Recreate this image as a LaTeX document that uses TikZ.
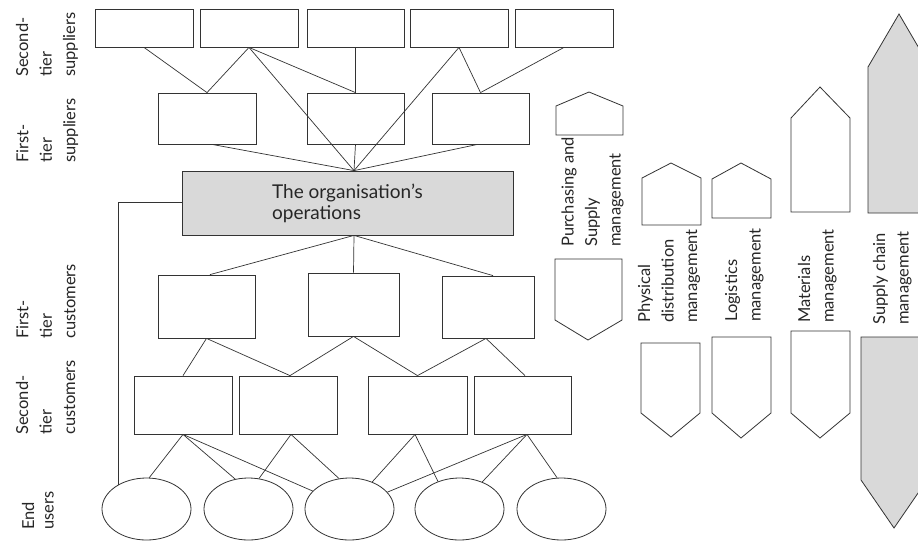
\documentclass[tikz,border=0pt]{standalone}
\usepackage{fontspec}
\setmainfont{Lato}
\usetikzlibrary{shapes.geometric}
\begin{document}
\begin{tikzpicture}[x=1pt,y=-1pt,
  box/.style={draw=black!80, line width=0.8pt, fill=white, inner sep=0pt},
  orgbox/.style={draw=black!80, line width=0.8pt, fill=black!15, inner sep=0pt,
    align=left, font=\fontsize{19}{21}\selectfont, text=black!85},
  user/.style={ellipse, draw=black!80, line width=0.8pt, fill=white, inner sep=0pt,
    minimum width=89pt, minimum height=62pt},
  link/.style={draw=black!80, line width=0.7pt},
  shaft/.style={draw=black!80, line width=0.8pt, fill=white, line join=miter},
  shaftgrey/.style={shaft, fill=black!15},
  lbl/.style={rotate=90, anchor=north west, align=left, inner sep=0pt,
    font=\fontsize{16.5}{23.5}\selectfont, text=black!85}]

\useasboundingbox (0,0) rectangle (918,542);
\fill[white] (0,0) rectangle (918,542);

% second-tier suppliers
\node[box, minimum width=98pt, minimum height=38pt] (sa) at (144,28) {};
\node[box, minimum width=98pt, minimum height=38pt] (sb) at (249,28) {};
\node[box, minimum width=97pt, minimum height=38pt] (sc) at (355.5,28) {};
\node[box, minimum width=98pt, minimum height=38pt] (sd) at (459,28) {};
\node[box, minimum width=98pt, minimum height=38pt] (se) at (564,28) {};

% first-tier suppliers
\node[box, minimum width=98pt, minimum height=51pt] (fa) at (207,118.5) {};
\node[box, minimum width=97pt, minimum height=51pt] (fb) at (355.5,118.5) {};
\node[box, minimum width=97pt, minimum height=51pt] (fc) at (480.5,118.5) {};

% the organisation
\node[orgbox, minimum width=331pt, minimum height=64pt] (org) at (347.5,203)
  {The organisation's\\operations};

% first-tier customers
\node[box, minimum width=97pt, minimum height=63pt] (ca) at (206.5,306.5) {};
\node[box, minimum width=91pt, minimum height=63pt] (cb) at (353.5,304.5) {};
\node[box, minimum width=92pt, minimum height=62pt] (cc) at (488.5,307) {};

% second-tier customers
\node[box, minimum width=98pt, minimum height=58pt] (da) at (183,405) {};
\node[box, minimum width=98pt, minimum height=58pt] (db) at (288,405) {};
\node[box, minimum width=99pt, minimum height=58pt] (dc) at (417.5,405) {};
\node[box, minimum width=97pt, minimum height=58pt] (dd) at (522.5,405) {};

% end users
\node[user] (ea) at (146.5,509) {};
\node[user] (eb) at (248.5,509) {};
\node[user] (ec) at (349.5,509) {};
\node[user] (ed) at (459.5,509) {};
\node[user] (ee) at (561.5,509) {};

% supplier links
\draw[link] (sa.south) -- (fa.north);
\draw[link] (sb.south) -- (fa.north);
\draw[link] (sb.south) -- (fb.north);
\draw[link] (sb.south) -- ([xshift=6.5pt]org.north);
\draw[link] (sc.south) -- (fb.north);
\draw[link] (sd.south) -- ([xshift=6.5pt]org.north);
\draw[link] (sd.south) -- (fc.north);
\draw[link] (se.south) -- (fc.north);
\draw[link] ([xshift=5pt]fa.south) -- ([xshift=6.5pt]org.north);
\draw[link] (fb.south) -- ([xshift=6.5pt]org.north);
\draw[link] ([xshift=-3pt]fc.south) -- ([xshift=6.5pt]org.north);

% customer links
\draw[link] ([xshift=6.5pt]org.south) -- ([xshift=3.5pt]ca.north);
\draw[link] ([xshift=6.5pt]org.south) -- (cb.north);
\draw[link] ([xshift=6.5pt]org.south) -- ([xshift=4.5pt]cc.north);
\draw[link] (ca.south) -- (da.north);
\draw[link] (ca.south) -- ([xshift=2pt]db.north);
\draw[link] (cb.south) -- ([xshift=2pt]db.north);
\draw[link] (cb.south) -- (dc.north);
\draw[link] ([xshift=-2.5pt]cc.south) -- (dc.north);
\draw[link] ([xshift=-2.5pt]cc.south) -- ([xshift=2.5pt]dd.north);

% links to end users
\draw[link] (da.south) -- (ea.85);
\draw[link] (da.south) -- (eb.114);
\draw[link] (da.south) -- (ec.154);
\draw[link] ([xshift=3pt]db.south) -- (eb.71);
\draw[link] ([xshift=3pt]db.south) -- (ec.109);
\draw[link] ([xshift=-2.5pt]dc.south) -- (ec.50);
\draw[link] ([xshift=-2.5pt]dc.south) -- (ed.128);
\draw[link] ([xshift=4.5pt]dd.south) -- (ec.24);
\draw[link] ([xshift=4.5pt]dd.south) -- (ed.50);
\draw[link] ([xshift=4.5pt]dd.south) -- (ee.98);

% direct line from the operations to the end users
\draw[link] ([yshift=1pt]org.west) -| (ea.139);

% tier labels
\node[lbl] (l1) at (15.8,77) {Second-\\tier\\suppliers};
\node[lbl] (l2) at (16.1,163) {First-\\tier\\suppliers};
\node[lbl] (l3) at (16.1,339) {First-\\tier\\customers};
\node[lbl] (l4) at (15.8,435) {Second-\\tier\\customers};
\node[lbl, font=\fontsize{16.5}{19.5}\selectfont] (l5) at (21.8,530) {End\\users};

% scope of each management approach
\draw[shaft] (556,135) -- (556,106) -- (589,92) -- (623,106) -- (623,135) -- cycle;
\draw[shaft] (555,259) -- (555,320) -- (588,340) -- (622,320) -- (622,259) -- cycle;
\node[lbl] (p1) at (561.3,247) {Purchasing and\\Supply\\management};

\draw[shaft] (642,225) -- (642,178) -- (671,163) -- (701,178) -- (701,225) -- cycle;
\draw[shaft] (641,343) -- (641,413) -- (671,437) -- (700,413) -- (700,343) -- cycle;
\node[lbl] (p2) at (637.8,323) {Physical\\distribution\\management};

\draw[shaft] (712,218) -- (712,179) -- (741,163) -- (771,179) -- (771,218) -- cycle;
\draw[shaft] (712,337) -- (712,413) -- (741,438) -- (771,413) -- (771,337) -- cycle;
\node[lbl] (p3) at (724.8,322) {Logistics\\management};

\draw[shaft] (791,212) -- (791,118) -- (820,87) -- (850,118) -- (850,212) -- cycle;
\draw[shaft] (791,331) -- (791,413) -- (820,438) -- (850,413) -- (850,331) -- cycle;
\node[lbl] (p4) at (797.8,323) {Materials\\management};

\draw[shaftgrey] (868,213) -- (868,67) -- (899,14) -- (930,67) -- (930,213) -- cycle;
\draw[shaftgrey] (861,337) -- (861,480) -- (894,528) -- (927,480) -- (927,337) -- cycle;
\node[lbl] (p5) at (872.8,325) {Supply chain\\management};

\end{tikzpicture}
\end{document}
